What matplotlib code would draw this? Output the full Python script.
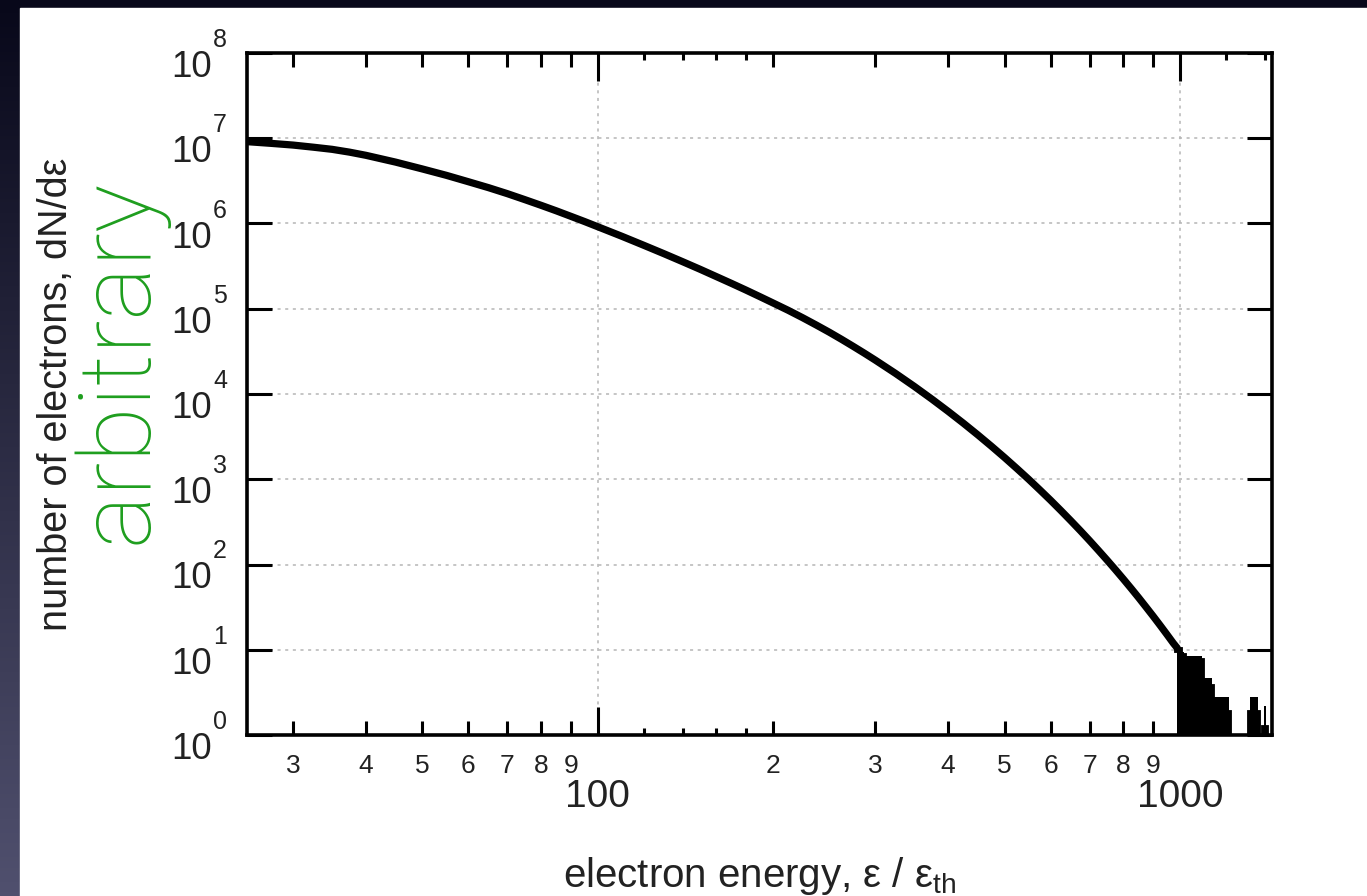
import numpy as np
import matplotlib
matplotlib.use("Agg")
import matplotlib.pyplot as plt
from matplotlib.patches import Rectangle
from matplotlib.ticker import FixedLocator, FixedFormatter, NullLocator
from matplotlib.transforms import offset_copy

# ---------------- data ----------------
energy = [25, 27.5, 30, 32.5, 35, 37.5, 40, 45, 50, 55, 60, 65, 70, 75, 80,
          85, 90, 95, 100, 110, 120, 130, 140, 150, 160, 170, 180, 190, 200,
          212.5, 225, 237.5, 250, 262.5, 275, 287.5, 300, 325, 350, 375, 400,
          425, 450, 475, 500, 525, 550, 575, 600, 625, 650, 675, 700, 725,
          750, 775, 800, 825, 850, 875, 900, 925, 950, 975, 990]
log_counts = [6.96, 6.94, 6.92, 6.895, 6.87, 6.837, 6.80, 6.72, 6.64, 6.565,
              6.49, 6.42, 6.35, 6.28, 6.213, 6.148, 6.084, 6.023, 5.963,
              5.851, 5.745, 5.646, 5.552, 5.463, 5.377, 5.296, 5.218, 5.142,
              5.069, 4.982, 4.895, 4.809, 4.725, 4.641, 4.558, 4.477, 4.397,
              4.241, 4.089, 3.941, 3.797, 3.657, 3.520, 3.386, 3.255, 3.126,
              3.000, 2.875, 2.753, 2.632, 2.513, 2.396, 2.280, 2.165, 2.052,
              1.940, 1.829, 1.719, 1.610, 1.501, 1.394, 1.287, 1.181, 1.076,
              1.02]
counts = [10 ** v for v in log_counts]

# noisy high-energy tail: histogram bins (left edges, width 15), 0 = empty
tail_left = [987.5, 1002.5, 1017.5, 1032.5, 1047.5, 1062.5, 1077.5, 1092.5,
             1107.5, 1122.5, 1137.5, 1152.5, 1167.5, 1182.5, 1197.5, 1212.5,
             1227.5, 1242.5, 1257.5, 1272.5, 1287.5, 1302.5, 1317.5, 1332.5,
             1347.5, 1362.5, 1377.5, 1392.5, 1407.5, 1422.5]
tail_counts = [10, 8.5, 7.4, 7.4, 7.4, 7.4, 7.4, 3.7,
               3.7, 3.7, 1.8, 1.8, 1.8, 1.8, 1.8, 0,
               0, 0, 0, 0, 0, 0, 1.8, 1.8,
               1.8, 0, 0, 1.2, 0, 0]
tail_width = 15

x_major = [100, 1000]
x_major_labels = ["100", "1000"]
x_minor = [30, 40, 50, 60, 70, 80, 90, 200, 300, 400, 500, 600, 700, 800, 900]
x_minor_labels = ["3", "4", "5", "6", "7", "8", "9",
                  "2", "3", "4", "5", "6", "7", "8", "9"]
x_small = [120, 140, 160, 180, 1200, 1400]
y_exponents = [0, 1, 2, 3, 4, 5, 6, 7, 8]

# ---------------- style ----------------
plt.rcParams['font.family'] = ['Liberation Sans', 'DejaVu Sans']
plt.rcParams['mathtext.fontset'] = 'custom'
plt.rcParams['mathtext.rm'] = 'Liberation Sans'
plt.rcParams['mathtext.it'] = 'Liberation Sans:italic'
plt.rcParams['mathtext.bf'] = 'Liberation Sans:bold'

W, H = 1367, 896
fig = plt.figure(figsize=(W / 100, H / 100), dpi=100)

# slide background (dark gradient) and white panel
bg = fig.add_axes([0, 0, 1, 1], zorder=-5)
t = np.linspace(0, 1, 256)[:, None]
top = np.array([8, 8, 26]) / 255.0
bot = np.array([80, 80, 110]) / 255.0
grad = (top[None, None, :] * (1 - t[:, :, None]) + bot[None, None, :] * t[:, :, None])
grad = np.repeat(grad, 4, axis=1)
bg.imshow(grad, aspect='auto', extent=[0, 1, 0, 1], origin='upper')
bg.add_patch(Rectangle((20 / W, 0), 1, (H - 8) / H, color='white',
                       transform=bg.transAxes))
bg.set_xlim(0, 1)
bg.set_ylim(0, 1)
bg.axis('off')

# main axes
L, R, T, B = 247, 1272, 53, 735
ax = fig.add_axes([L / W, (H - B) / H, (R - L) / W, (B - T) / H])
ax.set_facecolor('white')
ax.set_xscale('log')
ax.set_yscale('log', nonpositive='clip')
ax.set_xlim(25, 1440)
ax.set_ylim(1, 1e8)

ax.plot(energy, counts, color='black', lw=5.2, solid_joinstyle='round',
        solid_capstyle='round', zorder=3)

# tail histogram: filled bars plus thick outline
ax.bar(tail_left, tail_counts, width=tail_width, align='edge', bottom=1,
       color='black', linewidth=0, zorder=3)
step_x = tail_left + [tail_left[-1] + tail_width]
step_y = [c if c > 0 else 0.3 for c in tail_counts]
step_y = step_y + [step_y[-1]]
ax.step(step_x, step_y, where='post', color='black', lw=4.2, zorder=3,
        solid_joinstyle='miter')

# grid
ax.set_axisbelow(True)
ax.grid(True, which='major', color='#b5b5b5', linestyle=(0, (2, 3)),
        linewidth=1.1)

# ticks
ax.xaxis.set_major_locator(FixedLocator(x_major))
ax.xaxis.set_major_formatter(FixedFormatter(x_major_labels))
minor_all = x_minor + x_small
minor_labels_all = x_minor_labels + [""] * len(x_small)
order = np.argsort(minor_all)
minor_sorted = [minor_all[i] for i in order]
minor_labels_sorted = [minor_labels_all[i] for i in order]
ax.xaxis.set_minor_locator(FixedLocator(minor_sorted))
ax.xaxis.set_minor_formatter(FixedFormatter(minor_labels_sorted))

y_ticks = [10.0 ** e for e in y_exponents]
ax.yaxis.set_major_locator(FixedLocator(y_ticks))
ax.yaxis.set_minor_locator(NullLocator())

ax.tick_params(axis='both', which='both', direction='in', top=True,
               right=True, color='black', width=2.2)
ax.tick_params(axis='x', which='major', length=20, pad=32, labelsize=28,
               labelcolor='#222222')
ax.tick_params(axis='x', which='minor', length=10, pad=14, labelsize=19,
               labelcolor='#222222')
ax.tick_params(axis='y', which='major', length=18, labelleft=False)

# y tick labels in gnuplot style: "10" below the tick, exponent raised high
ytr = ax.get_yaxis_transform()
for e, yv in zip(y_exponents, y_ticks):
    base_tr = offset_copy(ytr, fig=fig, x=-35, y=-24, units='dots')
    ax.text(0, yv, '10', transform=base_tr, ha='right', va='baseline',
            fontsize=26.5, color='#222222', clip_on=False)
    exp_tr = offset_copy(ytr, fig=fig, x=-34, y=6, units='dots')
    ax.text(0, yv, str(e), transform=exp_tr, ha='left', va='baseline',
            fontsize=18, color='#222222', clip_on=False)

fig.canvas.draw()
for tk, loc in zip(ax.xaxis.get_minor_ticks(), minor_sorted):
    if loc in x_small:
        tk.tick1line.set_markersize(5)
        tk.tick2line.set_markersize(5)

for sp in ax.spines.values():
    sp.set_linewidth(2.6)
    sp.set_color('black')

# labels
ax.set_xlabel(r'electron energy, ε / ε$_\mathregular{th}$', fontsize=29,
              color='#222222')
ax.xaxis.set_label_coords(0.5, -0.176)
ax.set_ylabel('number of electrons, dN/dε', fontsize=28.5, color='#222222')
ax.yaxis.set_label_coords(-0.168, 0.5)

ax.text(-0.0976, 0.548, 'arbitrary', transform=ax.transAxes, rotation=90,
        rotation_mode='anchor', ha='center', va='baseline', fontsize=73,
        color='#1e9e1e', family=['Roboto', 'DejaVu Sans'],
        fontweight='light', clip_on=False)

fig.savefig('out.png', dpi=100, facecolor=fig.get_facecolor())
